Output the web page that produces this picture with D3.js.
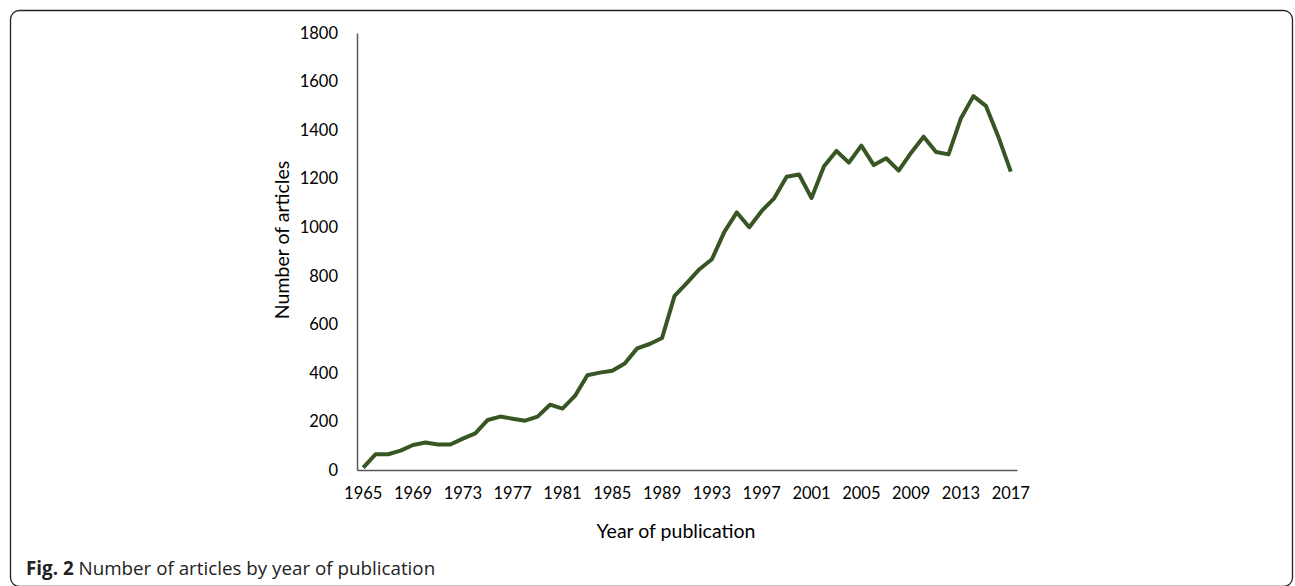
<!DOCTYPE html>
<html>
<head>
<meta charset="utf-8">
<script src="https://cdn.jsdelivr.net/npm/d3@7"></script>
<style>
  body { margin: 0; background: #fff; }
  svg { display: block; }
</style>
</head>
<body>
<div id="chart"></div>
<script>
(function() {
    'use strict';

    // years of publication and article counts
    const years = d3.range(1965, 2018);
    const articles = [
        10, 65, 65, 80, 103, 113, 105, 105, 129, 151,
        206, 220, 211, 203, 220, 269, 253, 305, 390, 401,
        409, 439, 501, 519, 544, 717, 771, 827, 868, 981,
        1061, 1000, 1067, 1119, 1208, 1217, 1120, 1251, 1314, 1266,
        1336, 1256, 1284, 1233, 1307, 1373, 1310, 1300, 1449, 1540,
        1500, 1373, 1229
    ];
    const yTicks = [0, 200, 400, 600, 800, 1000, 1200, 1400, 1600, 1800];
    const xTickYears = [1965, 1969, 1973, 1977, 1981, 1985, 1989, 1993, 1997, 2001, 2005, 2009, 2013, 2017];

    const width = 1295;
    const height = 586;
    const tickFont = "Lato, 'Open Sans', sans-serif";

    const svg = d3.select("#chart")
        .append("svg")
        .attr("width", width)
        .attr("height", height);

    // rounded frame around the figure (bottom runs off the picture)
    svg.append("rect")
        .attr("x", 10.5)
        .attr("y", 10.5)
        .attr("width", 1282)
        .attr("height", 576)
        .attr("rx", 9)
        .attr("fill", "none")
        .attr("stroke", "#222")
        .attr("stroke-width", 1.3);

    // plot area
    const left = 357, right = 1017, top = 33, bottom = 470;

    const x = d3.scaleBand()
        .domain(years)
        .range([left, right]);

    const y = d3.scaleLinear()
        .domain([0, 1800])
        .range([bottom, top]);

    const xPos = d => x(d) + x.bandwidth() / 2;

    // y axis: line + labels, no ticks
    const yAxis = svg.append("g")
        .attr("transform", `translate(${left},0)`)
        .call(d3.axisLeft(y).tickValues(yTicks).tickFormat(d3.format("d")).tickSize(0).tickPadding(19));
    yAxis.select(".domain").attr("stroke", "#595959").attr("stroke-width", 1.5);
    yAxis.selectAll("text")
        .attr("font-family", tickFont)
        .attr("font-size", 16.5)
        .attr("fill", "#000");

    // x axis
    const xAxis = svg.append("g")
        .attr("transform", `translate(0,${bottom})`)
        .call(d3.axisBottom(x).tickValues(xTickYears).tickSize(0).tickPadding(17));
    xAxis.select(".domain").attr("stroke", "#595959").attr("stroke-width", 1.5);
    xAxis.selectAll("text")
        .attr("font-family", tickFont)
        .attr("font-size", 16.5)
        .attr("fill", "#000");

    // line
    const line = d3.line()
        .x((d, i) => xPos(years[i]))
        .y(d => y(d));

    svg.append("path")
        .datum(articles)
        .attr("d", line)
        .attr("fill", "none")
        .attr("stroke", "#375623")
        .attr("stroke-width", 4)
        .attr("stroke-linejoin", "round");

    // axis titles
    svg.append("text")
        .attr("x", 676)
        .attr("y", 538)
        .attr("text-anchor", "middle")
        .attr("font-family", tickFont)
        .attr("font-size", 19.5)
        .text("Year of publication");

    svg.append("text")
        .attr("transform", "translate(289,240) rotate(-90)")
        .attr("text-anchor", "middle")
        .attr("font-family", tickFont)
        .attr("font-size", 19.5)
        .text("Number of articles");

    // caption
    const cap = svg.append("text")
        .attr("x", 26)
        .attr("y", 575)
        .attr("font-family", "'Open Sans', sans-serif")
        .attr("font-size", 18.8)
        .attr("fill", "#222");
    cap.append("tspan").attr("font-weight", "bold").text("Fig. 2");
    cap.append("tspan").text(" Number of articles by year of publication");

})();
</script>
</body>
</html>
